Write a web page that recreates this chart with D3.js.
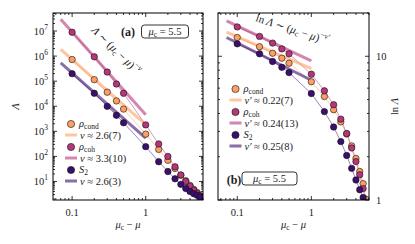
<!DOCTYPE html>
<html><head><meta charset="utf-8">
<script src="https://cdn.jsdelivr.net/npm/d3@7"></script>
<style>
body{margin:0;background:#fff}
svg{display:block}
text{font-family:"Liberation Serif","DejaVu Serif",serif;fill:#222}
</style>
</head><body><svg id="c" width="415" height="244"></svg>
<script>
// ---------------- data ----------------
const muDiff   = [0.1,0.2,0.3,0.4,0.5,1,1.5,2,2.5,3,3.5,4,4.5,5,5.5];
const rhoCond  = [7.3e5,1.15e5,3.63e4,1.63e4,7.7e3,773,190,70,33,17.8,10.8,7.0,4.85,3.67,2.75];
const rhoCoh   = [8.9e6,9.35e5,2.31e5,7.7e4,3.29e4,1808,314,99.5,38.5,18.2,10.0,6.36,4.48,3.32,2.6];
const s2       = [1.99e5,3.29e4,9.9e3,4.36e3,2.2e3,245,61.6,25,12.8,7.7,5.26,3.97,3.25,2.83,2.4];
// fit lines (endpoints) panel (a): [muc-mu, Lambda]
const fitA_cond = [[0.07,1.86e6],[1,1.86e3]];
const fitA_coh  = [[0.07,2.95e7],[1,4.6e3]];
const fitA_s2   = [[0.07,5.4e5],[1,5.4e2]];
// fit lines (endpoints) panel (b): [muc-mu, ln Lambda]
const fitB_cond = [[0.0717,14.7],[1,8.2]];
const fitB_coh  = [[0.0717,17.6],[1,9.28]];
const fitB_s2   = [[0.0717,13.5],[1,6.81]];
const nuLabelsA = ["2.6(7)","3.3(10)","2.6(3)"];
const nuLabelsB = ["0.22(7)","0.24(13)","0.25(8)"];
const xTickVals = [0.1,1];
const xTickLabels = ["0.1","1"];
const yTickExpA = [1,2,3,4,5,6,7];
const yTickValsB = [1,10];
const yTickLabelsB = ["1","10"];
const muC = "5.5";

// ---------------- styles ----------------
const colors = {cond:"#fd9e63", coh:"#b5367a", S2:"#3a0f6e"};
const svg = d3.select("#c");

const series = [
  {key:"cond", vals:rhoCond, fitA:fitA_cond, fitB:fitB_cond},
  {key:"coh",  vals:rhoCoh,  fitA:fitA_coh,  fitB:fitB_coh},
  {key:"S2",   vals:s2,      fitA:fitA_s2,   fitB:fitB_s2}
];

function minorTicks(domain){
  const out=[];
  const lo=Math.floor(Math.log10(domain[0])), hi=Math.ceil(Math.log10(domain[1]));
  for(let e=lo;e<=hi;e++) for(let m=1;m<10;m++){
    const v=m*Math.pow(10,e);
    if(v>=domain[0]*0.9999 && v<=domain[1]*1.0001) out.push({v, major:m===1});
  }
  return out;
}

function frameAndTicks(g, x, y, L, R, T, B){
  const xt = minorTicks(x.domain());
  const yt = minorTicks(y.domain());
  xt.forEach(t=>{
    const px=x(t.v), len=t.major?4:2;
    g.append("line").attr("x1",px).attr("x2",px).attr("y1",B).attr("y2",B-len).attr("stroke","#000").attr("stroke-width",0.8);
    g.append("line").attr("x1",px).attr("x2",px).attr("y1",T).attr("y2",T+len).attr("stroke","#000").attr("stroke-width",0.8);
  });
  yt.forEach(t=>{
    const py=y(t.v), len=t.major?4:2;
    g.append("line").attr("x1",L).attr("x2",L+len).attr("y1",py).attr("y2",py).attr("stroke","#000").attr("stroke-width",0.8);
    g.append("line").attr("x1",R).attr("x2",R-len).attr("y1",py).attr("y2",py).attr("stroke","#000").attr("stroke-width",0.8);
  });
  g.append("rect").attr("x",L).attr("y",T).attr("width",R-L).attr("height",B-T)
   .attr("fill","none").attr("stroke","#000").attr("stroke-width",1);
  xTickVals.forEach((v,i)=>{
    g.append("text").attr("x",x(v)).attr("y",B+16).attr("text-anchor","middle")
     .attr("font-size",10.5).text(xTickLabels[i]);
  });
  const xl = g.append("text").attr("x",(L+R)/2).attr("y",B+28).attr("text-anchor","middle").attr("font-size",10.5);
  xl.append("tspan").attr("font-style","italic").text("μ");
  xl.append("tspan").attr("font-size",7.5).attr("dy",2).text("c");
  xl.append("tspan").attr("dy",-2).text(" − ");
  xl.append("tspan").attr("font-style","italic").text("μ");
}

function drawSeries(g, x, y, yval, fitKey, clipId){
  const cg = g.append("g").attr("clip-path",`url(#${clipId})`);
  series.forEach(s=>{
    const pts = muDiff.map((m,i)=>[m, yval(s.vals[i])]);
    cg.append("path").datum(pts)
      .attr("d", d3.line().x(d=>x(d[0])).y(d=>y(d[1])))
      .attr("fill","none").attr("stroke",colors[s.key]).attr("stroke-width",0.6).attr("stroke-opacity",0.85);
  });
  series.forEach(s=>{
    cg.append("path").datum(s[fitKey])
      .attr("d", d3.line().x(d=>x(d[0])).y(d=>y(d[1])))
      .attr("fill","none").attr("stroke",colors[s.key]).attr("stroke-width",3).attr("stroke-opacity",0.6);
  });
  series.forEach(s=>{
    cg.selectAll(null).data(muDiff.map((m,i)=>[m, yval(s.vals[i])])).enter().append("circle")
      .attr("cx",d=>x(d[0])).attr("cy",d=>y(d[1])).attr("r",3.2)
      .attr("fill",colors[s.key]).attr("stroke","#111").attr("stroke-width",0.6);
  });
}

function legend(g, x0, y0, nuPrefix, nuLabels){
  const names = [["ρ","cond"],["ρ","coh"],["S","2"]];
  series.forEach((s,i)=>{
    const yy = y0 + i*23;
    g.append("circle").attr("cx",x0).attr("cy",yy).attr("r",3.6)
      .attr("fill",colors[s.key]).attr("stroke","#111").attr("stroke-width",0.6);
    const t = g.append("text").attr("x",x0+8).attr("y",yy+3).attr("font-size",10.5);
    t.append("tspan").attr("font-style","italic").text(names[i][0]);
    t.append("tspan").attr("font-size",7.5).attr("dy",2).text(names[i][1]);
    g.append("line").attr("x1",x0-6).attr("x2",x0+6).attr("y1",yy+11).attr("y2",yy+11)
      .attr("stroke",colors[s.key]).attr("stroke-width",3).attr("stroke-opacity",0.6);
    const t2 = g.append("text").attr("x",x0+9).attr("y",yy+14.5).attr("font-size",10.5);
    t2.append("tspan").attr("font-style","italic").text(nuPrefix);
    t2.append("tspan").text(" ≈ " + nuLabels[i]);
  });
}

function muBox(g, cx, cy, w, h){
  g.append("rect").attr("x",cx-w/2).attr("y",cy-h/2).attr("width",w).attr("height",h)
   .attr("rx",3).attr("fill","#fff").attr("stroke","#000").attr("stroke-width",0.8);
  const t = g.append("text").attr("x",cx).attr("y",cy+3.5).attr("text-anchor","middle").attr("font-size",10.5);
  t.append("tspan").attr("font-style","italic").text("μ");
  t.append("tspan").attr("font-size",7.5).attr("dy",2).text("c");
  t.append("tspan").attr("dy",-2).text(" = " + muC);
}

function annot(g, tx, ty, ang, lnPrefix, expSym){
  const an = g.append("text").attr("transform",`translate(${tx},${ty}) rotate(${ang})`).attr("font-size",11);
  if(lnPrefix) an.append("tspan").text("ln ");
  an.append("tspan").attr("font-style","italic").text("Λ");
  an.append("tspan").text(" ∼ (");
  an.append("tspan").attr("font-style","italic").text("μ");
  an.append("tspan").attr("font-size",8).attr("dy",2).text("c");
  an.append("tspan").attr("dy",-2).text(" − ");
  an.append("tspan").attr("font-style","italic").text("μ");
  an.append("tspan").text(")");
  an.append("tspan").attr("font-size",8).attr("dy",-5).text("−");
  an.append("tspan").attr("font-size",8).attr("font-style","italic").text(expSym);
}

const defs = svg.append("defs");

// ---------------- panel (a) ----------------
{
  const L=53,R=203,T=13,B=200;
  const x = d3.scaleLog().domain([0.055,6.0]).range([L,R]);
  const y = d3.scaleLog().domain([Math.pow(10,0.262),Math.pow(10,7.718)]).range([B,T]);
  defs.append("clipPath").attr("id","clipA").append("rect").attr("x",L).attr("y",T).attr("width",R-L).attr("height",B-T);
  const g = svg.append("g");
  drawSeries(g, x, y, v=>v, "fitA", "clipA");
  frameAndTicks(g, x, y, L, R, T, B);
  yTickExpA.forEach(e=>{
    const t=g.append("text").attr("x",L-5).attr("y",y(Math.pow(10,e))+3.5).attr("text-anchor","end").attr("font-size",10.5);
    t.append("tspan").text("10");
    t.append("tspan").attr("font-size",7.5).attr("dy",-4.5).text(e);
  });
  g.append("text").attr("transform",`translate(${19},${(T+B)/2}) rotate(-90)`).attr("text-anchor","middle")
   .attr("font-size",11).attr("font-style","italic").text("Λ");
  legend(g, 71, 124, "ν", nuLabelsA);
  g.append("text").attr("x",128).attr("y",36).attr("text-anchor","middle").attr("font-size",12).attr("font-weight","bold").text("(a)");
  muBox(g, 165, 31.5, 47, 13);
  annot(g, 91, 31, 44, false, "ν");
}

// ---------------- panel (b) ----------------
{
  const L=218,R=369,T=13,B=200;
  const x = d3.scaleLog().domain([0.055,6.0]).range([L,R]);
  const y = d3.scaleLog().domain([1,20]).range([B,T]);
  defs.append("clipPath").attr("id","clipB").append("rect").attr("x",L).attr("y",T).attr("width",R-L).attr("height",B-T);
  const g = svg.append("g");
  drawSeries(g, x, y, v=>Math.log(v), "fitB", "clipB");
  frameAndTicks(g, x, y, L, R, T, B);
  yTickValsB.forEach((v,i)=>{
    g.append("text").attr("x",R+7).attr("y",y(v)+3.5).attr("text-anchor","start").attr("font-size",10.5).text(yTickLabelsB[i]);
  });
  const yl = g.append("text").attr("transform",`translate(${398},${(T+B)/2}) rotate(-90)`).attr("text-anchor","middle").attr("font-size",10.5);
  yl.append("tspan").text("ln ");
  yl.append("tspan").attr("font-style","italic").text("Λ");
  legend(g, 235.5, 89, "ν′", nuLabelsB);
  g.append("text").attr("x",234).attr("y",184).attr("text-anchor","middle").attr("font-size",12).attr("font-weight","bold").text("(b)");
  muBox(g, 269.5, 178.5, 55, 13);
  annot(g, 255, 21, 18, true, "ν′");
}
</script>
</body></html>
